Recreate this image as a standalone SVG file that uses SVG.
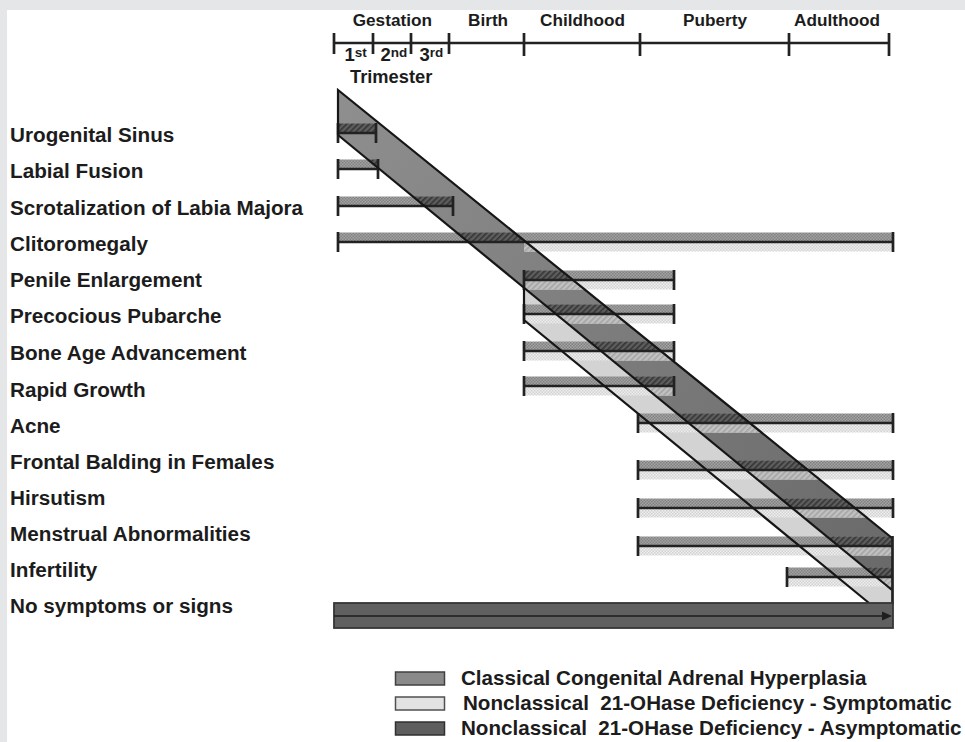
<svg xmlns="http://www.w3.org/2000/svg" width="965" height="742" viewBox="0 0 965 742">
<style>
text{font-family:"Liberation Sans",Arial,sans-serif;font-weight:bold;fill:#1c1c1c}
.lbl{font-size:20.7px}
.tl{font-size:17.2px}
.ord{font-size:18.5px}
.sup{font-size:13.5px}
.leg{font-size:20.6px;white-space:pre}
.ln{stroke:#222;stroke-width:2.5;fill:none}
.tk{stroke:#222;stroke-width:2.7;fill:none}
.up{fill:url(#chkMed)}
.lo{fill:url(#chkLight)}
.upin{fill:url(#hatchDark)}
.loin{fill:url(#hatchLight)}
.edge{stroke:#161616;stroke-width:2.2;fill:none}
</style>
<defs>
<pattern id="chkMed" width="3" height="3" patternUnits="userSpaceOnUse">
<rect width="3" height="3" fill="#a3a3a3"/><rect width="1.5" height="1.5" fill="#828282"/><rect x="1.5" y="1.5" width="1.5" height="1.5" fill="#828282"/>
</pattern>
<pattern id="chkLight" width="3" height="3" patternUnits="userSpaceOnUse">
<rect width="3" height="3" fill="#efefef"/><rect width="1.5" height="1.5" fill="#d2d2d2"/><rect x="1.5" y="1.5" width="1.5" height="1.5" fill="#d2d2d2"/>
</pattern>
<pattern id="hatchDark" width="4" height="4" patternUnits="userSpaceOnUse" patternTransform="rotate(45)">
<rect width="4" height="4" fill="#5e5e5e"/><rect width="1.6" height="4" fill="#353535"/>
</pattern>
<pattern id="hatchLight" width="4" height="4" patternUnits="userSpaceOnUse" patternTransform="rotate(45)">
<rect width="4" height="4" fill="#c2c2c2"/><rect width="1.6" height="4" fill="#a4a4a4"/>
</pattern>
<linearGradient id="bandGrad" gradientUnits="userSpaceOnUse" x1="338" y1="112" x2="892" y2="564">
<stop offset="0" stop-color="#8e8e8e"/><stop offset="1" stop-color="#6a6a6a"/>
</linearGradient>
<clipPath id="bandClip"><polygon points="338,90 892,538 892,590 338,135"/></clipPath>
</defs>

<rect width="965" height="742" fill="#ffffff"/>
<rect x="0" y="0" width="965" height="10" fill="#e5e6e8"/>
<rect x="0" y="0" width="7" height="742" fill="#e5e6e8"/>

<g id="timeline">
<line class="tk" x1="334" y1="43" x2="889" y2="43"/>
<path class="tk" d="M334,33V54M373,33V54M411,33V54M449,33V54M524,33V56M640,33V56M789,33V56M889,33V56"/>
<text class="tl" x="352.7" y="26">Gestation</text>
<text class="tl" x="468" y="26">Birth</text>
<text class="tl" x="540" y="26">Childhood</text>
<text class="tl" x="683" y="26">Puberty</text>
<text class="tl" x="794" y="26">Adulthood</text>
<text class="ord" x="344.5" y="60.5">1<tspan class="sup" dy="-4">st</tspan></text>
<text class="ord" x="380.5" y="60.5">2<tspan class="sup" dy="-4">nd</tspan></text>
<text class="ord" x="419.5" y="60.5">3<tspan class="sup" dy="-4">rd</tspan></text>
<text class="ord" x="350" y="83.3" style="font-size:18.3px">Trimester</text>
</g>

<g id="bands">
<polygon id="band-nonclassical-symptomatic" points="524,287.8 892,590 892,622 524,320" fill="#d3d3d3"/>
<polygon id="band-classical" points="338,90 892,538 892,590 338,135" fill="url(#bandGrad)"/>
</g>

<g id="rows">
<g id="row-urogenital">
<text class="lbl" x="10" y="142">Urogenital Sinus</text>
<rect class="up" x="338" y="123.5" width="38" height="9.5"/>
<rect class="upin" x="338" y="123.5" width="38" height="9.5" clip-path="url(#bandClip)"/>
<path class="ln" d="M338,133H376"/><path class="tk" d="M338,123V143M376,123V143"/>
</g>
<g id="row-labial">
<text class="lbl" x="10" y="178">Labial Fusion</text>
<rect class="up" x="338" y="159.5" width="40" height="9.5"/>
<rect class="upin" x="338" y="159.5" width="40" height="9.5" clip-path="url(#bandClip)"/>
<path class="ln" d="M338,169H378"/><path class="tk" d="M338,159V179M378,159V179"/>
</g>
<g id="row-scrotalization">
<text class="lbl" x="10" y="214.5">Scrotalization of Labia Majora</text>
<rect class="up" x="338" y="196.5" width="115" height="9.5"/>
<rect class="upin" x="338" y="196.5" width="115" height="9.5" clip-path="url(#bandClip)"/>
<path class="ln" d="M338,206H453"/><path class="tk" d="M338,196V216M453,196V216"/>
</g>
<g id="row-clitoromegaly">
<text class="lbl" x="10" y="250.5">Clitoromegaly</text>
<rect class="up" x="338" y="232.5" width="555" height="9.5"/>
<rect class="lo" x="524" y="243" width="369" height="8.5"/>
<rect class="upin" x="338" y="232.5" width="555" height="9.5" clip-path="url(#bandClip)"/>
<rect class="loin" x="524" y="243" width="369" height="8.5" clip-path="url(#bandClip)"/>
<path class="ln" d="M338,242H893"/><path class="tk" d="M338,232V252M893,232V252"/>
</g>
<g id="row-penile">
<text class="lbl" x="10" y="287">Penile Enlargement</text>
<rect class="up" x="524" y="270.5" width="150" height="9.5"/>
<rect class="lo" x="524" y="281" width="150" height="8.5"/>
<rect class="upin" x="524" y="270.5" width="150" height="9.5" clip-path="url(#bandClip)"/>
<rect class="loin" x="524" y="281" width="150" height="8.5" clip-path="url(#bandClip)"/>
<path class="ln" d="M524,280H674"/><path class="tk" d="M524,270V290M674,270V290"/>
</g>
<g id="row-pubarche">
<text class="lbl" x="10" y="323">Precocious Pubarche</text>
<rect class="up" x="524" y="304.5" width="150" height="9.5"/>
<rect class="lo" x="524" y="315" width="150" height="8.5"/>
<rect class="upin" x="524" y="304.5" width="150" height="9.5" clip-path="url(#bandClip)"/>
<rect class="loin" x="524" y="315" width="150" height="8.5" clip-path="url(#bandClip)"/>
<path class="ln" d="M524,314H674"/><path class="tk" d="M524,304V324M674,304V324"/>
</g>
<g id="row-boneage">
<text class="lbl" x="10" y="360">Bone Age Advancement</text>
<rect class="up" x="524" y="341.5" width="150" height="9.5"/>
<rect class="lo" x="524" y="352" width="150" height="8.5"/>
<rect class="upin" x="524" y="341.5" width="150" height="9.5" clip-path="url(#bandClip)"/>
<rect class="loin" x="524" y="352" width="150" height="8.5" clip-path="url(#bandClip)"/>
<path class="ln" d="M524,351H674"/><path class="tk" d="M524,341V361M674,341V361"/>
</g>
<g id="row-growth">
<text class="lbl" x="10" y="396.5">Rapid Growth</text>
<rect class="up" x="524" y="376.5" width="150" height="9.5"/>
<rect class="lo" x="524" y="387" width="150" height="8.5"/>
<rect class="upin" x="524" y="376.5" width="150" height="9.5" clip-path="url(#bandClip)"/>
<rect class="loin" x="524" y="387" width="150" height="8.5" clip-path="url(#bandClip)"/>
<path class="ln" d="M524,386H674"/><path class="tk" d="M524,376V396M674,376V396"/>
</g>
<g id="row-acne">
<text class="lbl" x="10" y="433">Acne</text>
<rect class="up" x="638" y="413.5" width="255" height="9.5"/>
<rect class="lo" x="638" y="424" width="255" height="8.5"/>
<rect class="upin" x="638" y="413.5" width="255" height="9.5" clip-path="url(#bandClip)"/>
<rect class="loin" x="638" y="424" width="255" height="8.5" clip-path="url(#bandClip)"/>
<path class="ln" d="M638,423H893"/><path class="tk" d="M638,413V433M893,413V433"/>
</g>
<g id="row-balding">
<text class="lbl" x="10" y="469">Frontal Balding in Females</text>
<rect class="up" x="638" y="460.5" width="255" height="9.5"/>
<rect class="lo" x="638" y="471" width="255" height="8.5"/>
<rect class="upin" x="638" y="460.5" width="255" height="9.5" clip-path="url(#bandClip)"/>
<rect class="loin" x="638" y="471" width="255" height="8.5" clip-path="url(#bandClip)"/>
<path class="ln" d="M638,470H893"/><path class="tk" d="M638,460V480M893,460V480"/>
</g>
<g id="row-hirsutism">
<text class="lbl" x="10" y="505">Hirsutism</text>
<rect class="up" x="638" y="498.5" width="255" height="9.5"/>
<rect class="lo" x="638" y="509" width="255" height="8.5"/>
<rect class="upin" x="638" y="498.5" width="255" height="9.5" clip-path="url(#bandClip)"/>
<rect class="loin" x="638" y="509" width="255" height="8.5" clip-path="url(#bandClip)"/>
<path class="ln" d="M638,508H893"/><path class="tk" d="M638,498V518M893,498V518"/>
</g>
<g id="row-menstrual">
<text class="lbl" x="10" y="541">Menstrual Abnormalities</text>
<rect class="up" x="638" y="536.5" width="255" height="9.5"/>
<rect class="lo" x="638" y="547" width="255" height="8.5"/>
<rect class="upin" x="638" y="536.5" width="255" height="9.5" clip-path="url(#bandClip)"/>
<rect class="loin" x="638" y="547" width="255" height="8.5" clip-path="url(#bandClip)"/>
<path class="ln" d="M638,546H893"/><path class="tk" d="M638,536V556"/>
</g>
<g id="row-infertility">
<text class="lbl" x="10" y="577">Infertility</text>
<rect class="up" x="787" y="567.5" width="106" height="9.5"/>
<rect class="lo" x="787" y="578" width="106" height="8.5"/>
<rect class="upin" x="787" y="567.5" width="106" height="9.5" clip-path="url(#bandClip)"/>
<rect class="loin" x="787" y="578" width="106" height="8.5" clip-path="url(#bandClip)"/>
<path class="ln" d="M787,577H893"/><path class="tk" d="M787,567V587"/>
</g>
</g>

<g id="connectors">
<path class="edge" d="M338,135V90L892,538"/>
<path class="edge" d="M338,135L892,590"/>
<path class="edge" d="M524,287.8V320L869,603"/>
<path class="tk" d="M892.5,536V604"/>
</g>

<g id="row-nosymptoms">
<text class="lbl" x="10" y="613">No symptoms or signs</text>
<rect x="334" y="603" width="559" height="25" fill="#606060" stroke="#363636" stroke-width="1.8"/>
<line x1="334" y1="616" x2="884" y2="616" stroke="#1e1e1e" stroke-width="1.4"/>
<polygon points="882,611.5 892,616 882,620.5" fill="#1e1e1e"/>
</g>

<g id="legend">
<rect x="395.5" y="672" width="49" height="13" fill="#8a8a8a" stroke="#404040" stroke-width="1.5"/>
<rect x="395.5" y="697" width="49" height="13" fill="#e2e2e2" stroke="#505050" stroke-width="1.5"/>
<rect x="395.5" y="722" width="49" height="13" fill="#5e5e5e" stroke="#303030" stroke-width="1.5"/>
<text class="leg" x="461" y="685">Classical Congenital Adrenal Hyperplasia</text>
<text class="leg" x="463" y="710">Nonclassical  21-OHase Deficiency - Symptomatic</text>
<text class="leg" x="461" y="735">Nonclassical  21-OHase Deficiency - Asymptomatic</text>
</g>
</svg>
